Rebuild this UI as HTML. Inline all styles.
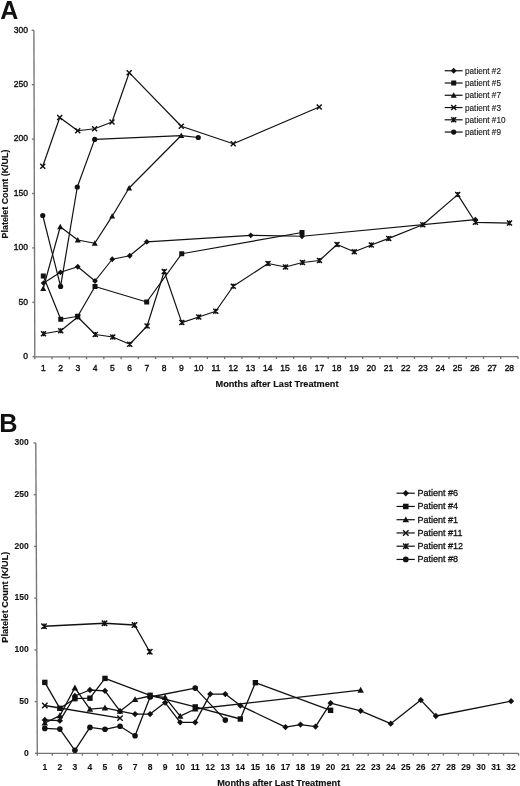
<!DOCTYPE html>
<html><head><meta charset="utf-8"><style>
html,body{margin:0;padding:0;background:#fff;}
body{width:520px;height:786px;overflow:hidden;}
svg{display:block;will-change:transform;}
text{font-family:"Liberation Sans", sans-serif;fill:#111;stroke:#111;stroke-width:0;}
.tk{stroke-width:0.38px;}
.tkb{font-weight:bold;stroke-width:0.1px;}
.lg{stroke-width:0.12px;}
.lgb{stroke-width:0.3px;}
.ti{stroke-width:0.15px;}
</style></head><body>
<svg width="520" height="786" viewBox="0 0 520 786">
<rect width="520" height="786" fill="#fff"/>
<text x="0.2" y="18.7" font-size="25" font-weight="bold">A</text>
<text x="-0.8" y="432.0" font-size="25.3" font-weight="bold">B</text>
<line x1="33.9" y1="30.3" x2="34.8" y2="356.9" stroke="#747474" stroke-width="1.35"/>
<line x1="34.099999999999994" y1="356.9" x2="518.0" y2="356.6" stroke="#747474" stroke-width="1.35"/>
<line x1="32.50" y1="356.70" x2="34.80" y2="356.70" stroke="#747474" stroke-width="1.35"/>
<text x="28.0" y="359.00" text-anchor="end" font-size="8.5" class="tk">0</text>
<line x1="32.35" y1="302.30" x2="34.65" y2="302.30" stroke="#747474" stroke-width="1.35"/>
<text x="28.0" y="304.60" text-anchor="end" font-size="8.5" class="tk">50</text>
<line x1="32.20" y1="247.90" x2="34.50" y2="247.90" stroke="#747474" stroke-width="1.35"/>
<text x="28.0" y="250.20" text-anchor="end" font-size="8.5" class="tk">100</text>
<line x1="32.05" y1="193.50" x2="34.35" y2="193.50" stroke="#747474" stroke-width="1.35"/>
<text x="28.0" y="195.80" text-anchor="end" font-size="8.5" class="tk">150</text>
<line x1="31.90" y1="139.10" x2="34.20" y2="139.10" stroke="#747474" stroke-width="1.35"/>
<text x="28.0" y="141.40" text-anchor="end" font-size="8.5" class="tk">200</text>
<line x1="31.75" y1="84.70" x2="34.05" y2="84.70" stroke="#747474" stroke-width="1.35"/>
<text x="28.0" y="87.00" text-anchor="end" font-size="8.5" class="tk">250</text>
<line x1="31.60" y1="30.30" x2="33.90" y2="30.30" stroke="#747474" stroke-width="1.35"/>
<text x="28.0" y="32.60" text-anchor="end" font-size="8.5" class="tk">300</text>
<line x1="34.80" y1="356.90" x2="34.80" y2="359.20" stroke="#747474" stroke-width="1.35"/>
<line x1="52.06" y1="356.89" x2="52.06" y2="359.19" stroke="#747474" stroke-width="1.35"/>
<line x1="69.31" y1="356.88" x2="69.31" y2="359.18" stroke="#747474" stroke-width="1.35"/>
<line x1="86.57" y1="356.87" x2="86.57" y2="359.17" stroke="#747474" stroke-width="1.35"/>
<line x1="103.83" y1="356.86" x2="103.83" y2="359.16" stroke="#747474" stroke-width="1.35"/>
<line x1="121.09" y1="356.85" x2="121.09" y2="359.15" stroke="#747474" stroke-width="1.35"/>
<line x1="138.34" y1="356.84" x2="138.34" y2="359.14" stroke="#747474" stroke-width="1.35"/>
<line x1="155.60" y1="356.82" x2="155.60" y2="359.12" stroke="#747474" stroke-width="1.35"/>
<line x1="172.86" y1="356.81" x2="172.86" y2="359.11" stroke="#747474" stroke-width="1.35"/>
<line x1="190.11" y1="356.80" x2="190.11" y2="359.10" stroke="#747474" stroke-width="1.35"/>
<line x1="207.37" y1="356.79" x2="207.37" y2="359.09" stroke="#747474" stroke-width="1.35"/>
<line x1="224.63" y1="356.78" x2="224.63" y2="359.08" stroke="#747474" stroke-width="1.35"/>
<line x1="241.89" y1="356.77" x2="241.89" y2="359.07" stroke="#747474" stroke-width="1.35"/>
<line x1="259.14" y1="356.76" x2="259.14" y2="359.06" stroke="#747474" stroke-width="1.35"/>
<line x1="276.40" y1="356.75" x2="276.40" y2="359.05" stroke="#747474" stroke-width="1.35"/>
<line x1="293.66" y1="356.74" x2="293.66" y2="359.04" stroke="#747474" stroke-width="1.35"/>
<line x1="310.91" y1="356.73" x2="310.91" y2="359.03" stroke="#747474" stroke-width="1.35"/>
<line x1="328.17" y1="356.72" x2="328.17" y2="359.02" stroke="#747474" stroke-width="1.35"/>
<line x1="345.43" y1="356.71" x2="345.43" y2="359.01" stroke="#747474" stroke-width="1.35"/>
<line x1="362.69" y1="356.70" x2="362.69" y2="359.00" stroke="#747474" stroke-width="1.35"/>
<line x1="379.94" y1="356.69" x2="379.94" y2="358.99" stroke="#747474" stroke-width="1.35"/>
<line x1="397.20" y1="356.68" x2="397.20" y2="358.98" stroke="#747474" stroke-width="1.35"/>
<line x1="414.46" y1="356.66" x2="414.46" y2="358.96" stroke="#747474" stroke-width="1.35"/>
<line x1="431.71" y1="356.65" x2="431.71" y2="358.95" stroke="#747474" stroke-width="1.35"/>
<line x1="448.97" y1="356.64" x2="448.97" y2="358.94" stroke="#747474" stroke-width="1.35"/>
<line x1="466.23" y1="356.63" x2="466.23" y2="358.93" stroke="#747474" stroke-width="1.35"/>
<line x1="483.49" y1="356.62" x2="483.49" y2="358.92" stroke="#747474" stroke-width="1.35"/>
<line x1="500.74" y1="356.61" x2="500.74" y2="358.91" stroke="#747474" stroke-width="1.35"/>
<line x1="518.00" y1="356.60" x2="518.00" y2="358.90" stroke="#747474" stroke-width="1.35"/>
<text x="43.43" y="371.3" text-anchor="middle" font-size="8.5" class="tk">1</text>
<text x="60.69" y="371.3" text-anchor="middle" font-size="8.5" class="tk">2</text>
<text x="77.94" y="371.3" text-anchor="middle" font-size="8.5" class="tk">3</text>
<text x="95.20" y="371.3" text-anchor="middle" font-size="8.5" class="tk">4</text>
<text x="112.46" y="371.3" text-anchor="middle" font-size="8.5" class="tk">5</text>
<text x="129.71" y="371.3" text-anchor="middle" font-size="8.5" class="tk">6</text>
<text x="146.97" y="371.3" text-anchor="middle" font-size="8.5" class="tk">7</text>
<text x="164.23" y="371.3" text-anchor="middle" font-size="8.5" class="tk">8</text>
<text x="181.49" y="371.3" text-anchor="middle" font-size="8.5" class="tk">9</text>
<text x="198.74" y="371.3" text-anchor="middle" font-size="8.5" class="tk">10</text>
<text x="216.00" y="371.3" text-anchor="middle" font-size="8.5" class="tk">11</text>
<text x="233.26" y="371.3" text-anchor="middle" font-size="8.5" class="tk">12</text>
<text x="250.51" y="371.3" text-anchor="middle" font-size="8.5" class="tk">13</text>
<text x="267.77" y="371.3" text-anchor="middle" font-size="8.5" class="tk">14</text>
<text x="285.03" y="371.3" text-anchor="middle" font-size="8.5" class="tk">15</text>
<text x="302.29" y="371.3" text-anchor="middle" font-size="8.5" class="tk">16</text>
<text x="319.54" y="371.3" text-anchor="middle" font-size="8.5" class="tk">17</text>
<text x="336.80" y="371.3" text-anchor="middle" font-size="8.5" class="tk">18</text>
<text x="354.06" y="371.3" text-anchor="middle" font-size="8.5" class="tk">19</text>
<text x="371.31" y="371.3" text-anchor="middle" font-size="8.5" class="tk">20</text>
<text x="388.57" y="371.3" text-anchor="middle" font-size="8.5" class="tk">21</text>
<text x="405.83" y="371.3" text-anchor="middle" font-size="8.5" class="tk">22</text>
<text x="423.09" y="371.3" text-anchor="middle" font-size="8.5" class="tk">23</text>
<text x="440.34" y="371.3" text-anchor="middle" font-size="8.5" class="tk">24</text>
<text x="457.60" y="371.3" text-anchor="middle" font-size="8.5" class="tk">25</text>
<text x="474.86" y="371.3" text-anchor="middle" font-size="8.5" class="tk">26</text>
<text x="492.11" y="371.3" text-anchor="middle" font-size="8.5" class="tk">27</text>
<text x="509.37" y="371.3" text-anchor="middle" font-size="8.5" class="tk">28</text>
<line x1="35.8" y1="443.0" x2="37.3" y2="753.4" stroke="#747474" stroke-width="1.35"/>
<line x1="36.599999999999994" y1="753.4" x2="518.6" y2="753.3" stroke="#747474" stroke-width="1.35"/>
<line x1="35.00" y1="753.30" x2="37.30" y2="753.30" stroke="#747474" stroke-width="1.35"/>
<text x="28.8" y="755.60" text-anchor="end" font-size="8.5" class="tkb">0</text>
<line x1="34.75" y1="701.58" x2="37.05" y2="701.58" stroke="#747474" stroke-width="1.35"/>
<text x="28.8" y="703.88" text-anchor="end" font-size="8.5" class="tkb">50</text>
<line x1="34.50" y1="649.87" x2="36.80" y2="649.87" stroke="#747474" stroke-width="1.35"/>
<text x="28.8" y="652.17" text-anchor="end" font-size="8.5" class="tkb">100</text>
<line x1="34.25" y1="598.15" x2="36.55" y2="598.15" stroke="#747474" stroke-width="1.35"/>
<text x="28.8" y="600.45" text-anchor="end" font-size="8.5" class="tkb">150</text>
<line x1="34.00" y1="546.44" x2="36.30" y2="546.44" stroke="#747474" stroke-width="1.35"/>
<text x="28.8" y="548.74" text-anchor="end" font-size="8.5" class="tkb">200</text>
<line x1="33.75" y1="494.72" x2="36.05" y2="494.72" stroke="#747474" stroke-width="1.35"/>
<text x="28.8" y="497.02" text-anchor="end" font-size="8.5" class="tkb">250</text>
<line x1="33.50" y1="443.01" x2="35.80" y2="443.01" stroke="#747474" stroke-width="1.35"/>
<text x="28.8" y="445.31" text-anchor="end" font-size="8.5" class="tkb">300</text>
<line x1="37.30" y1="753.40" x2="37.30" y2="755.70" stroke="#747474" stroke-width="1.35"/>
<line x1="52.34" y1="753.40" x2="52.34" y2="755.70" stroke="#747474" stroke-width="1.35"/>
<line x1="67.38" y1="753.39" x2="67.38" y2="755.69" stroke="#747474" stroke-width="1.35"/>
<line x1="82.42" y1="753.39" x2="82.42" y2="755.69" stroke="#747474" stroke-width="1.35"/>
<line x1="97.46" y1="753.39" x2="97.46" y2="755.69" stroke="#747474" stroke-width="1.35"/>
<line x1="112.50" y1="753.38" x2="112.50" y2="755.68" stroke="#747474" stroke-width="1.35"/>
<line x1="127.54" y1="753.38" x2="127.54" y2="755.68" stroke="#747474" stroke-width="1.35"/>
<line x1="142.58" y1="753.38" x2="142.58" y2="755.68" stroke="#747474" stroke-width="1.35"/>
<line x1="157.62" y1="753.38" x2="157.62" y2="755.67" stroke="#747474" stroke-width="1.35"/>
<line x1="172.67" y1="753.37" x2="172.67" y2="755.67" stroke="#747474" stroke-width="1.35"/>
<line x1="187.71" y1="753.37" x2="187.71" y2="755.67" stroke="#747474" stroke-width="1.35"/>
<line x1="202.75" y1="753.37" x2="202.75" y2="755.67" stroke="#747474" stroke-width="1.35"/>
<line x1="217.79" y1="753.36" x2="217.79" y2="755.66" stroke="#747474" stroke-width="1.35"/>
<line x1="232.83" y1="753.36" x2="232.83" y2="755.66" stroke="#747474" stroke-width="1.35"/>
<line x1="247.87" y1="753.36" x2="247.87" y2="755.66" stroke="#747474" stroke-width="1.35"/>
<line x1="262.91" y1="753.35" x2="262.91" y2="755.65" stroke="#747474" stroke-width="1.35"/>
<line x1="277.95" y1="753.35" x2="277.95" y2="755.65" stroke="#747474" stroke-width="1.35"/>
<line x1="292.99" y1="753.35" x2="292.99" y2="755.65" stroke="#747474" stroke-width="1.35"/>
<line x1="308.03" y1="753.34" x2="308.03" y2="755.64" stroke="#747474" stroke-width="1.35"/>
<line x1="323.07" y1="753.34" x2="323.07" y2="755.64" stroke="#747474" stroke-width="1.35"/>
<line x1="338.11" y1="753.34" x2="338.11" y2="755.64" stroke="#747474" stroke-width="1.35"/>
<line x1="353.15" y1="753.33" x2="353.15" y2="755.63" stroke="#747474" stroke-width="1.35"/>
<line x1="368.19" y1="753.33" x2="368.19" y2="755.63" stroke="#747474" stroke-width="1.35"/>
<line x1="383.23" y1="753.33" x2="383.23" y2="755.63" stroke="#747474" stroke-width="1.35"/>
<line x1="398.28" y1="753.32" x2="398.28" y2="755.62" stroke="#747474" stroke-width="1.35"/>
<line x1="413.32" y1="753.32" x2="413.32" y2="755.62" stroke="#747474" stroke-width="1.35"/>
<line x1="428.36" y1="753.32" x2="428.36" y2="755.62" stroke="#747474" stroke-width="1.35"/>
<line x1="443.40" y1="753.32" x2="443.40" y2="755.62" stroke="#747474" stroke-width="1.35"/>
<line x1="458.44" y1="753.31" x2="458.44" y2="755.61" stroke="#747474" stroke-width="1.35"/>
<line x1="473.48" y1="753.31" x2="473.48" y2="755.61" stroke="#747474" stroke-width="1.35"/>
<line x1="488.52" y1="753.31" x2="488.52" y2="755.61" stroke="#747474" stroke-width="1.35"/>
<line x1="503.56" y1="753.30" x2="503.56" y2="755.60" stroke="#747474" stroke-width="1.35"/>
<line x1="518.60" y1="753.30" x2="518.60" y2="755.60" stroke="#747474" stroke-width="1.35"/>
<text x="44.82" y="769.6" text-anchor="middle" font-size="8.5" class="tkb">1</text>
<text x="59.86" y="769.6" text-anchor="middle" font-size="8.5" class="tkb">2</text>
<text x="74.90" y="769.6" text-anchor="middle" font-size="8.5" class="tkb">3</text>
<text x="89.94" y="769.6" text-anchor="middle" font-size="8.5" class="tkb">4</text>
<text x="104.98" y="769.6" text-anchor="middle" font-size="8.5" class="tkb">5</text>
<text x="120.02" y="769.6" text-anchor="middle" font-size="8.5" class="tkb">6</text>
<text x="135.06" y="769.6" text-anchor="middle" font-size="8.5" class="tkb">7</text>
<text x="150.10" y="769.6" text-anchor="middle" font-size="8.5" class="tkb">8</text>
<text x="165.15" y="769.6" text-anchor="middle" font-size="8.5" class="tkb">9</text>
<text x="180.19" y="769.6" text-anchor="middle" font-size="8.5" class="tkb">10</text>
<text x="195.23" y="769.6" text-anchor="middle" font-size="8.5" class="tkb">11</text>
<text x="210.27" y="769.6" text-anchor="middle" font-size="8.5" class="tkb">12</text>
<text x="225.31" y="769.6" text-anchor="middle" font-size="8.5" class="tkb">13</text>
<text x="240.35" y="769.6" text-anchor="middle" font-size="8.5" class="tkb">14</text>
<text x="255.39" y="769.6" text-anchor="middle" font-size="8.5" class="tkb">15</text>
<text x="270.43" y="769.6" text-anchor="middle" font-size="8.5" class="tkb">16</text>
<text x="285.47" y="769.6" text-anchor="middle" font-size="8.5" class="tkb">17</text>
<text x="300.51" y="769.6" text-anchor="middle" font-size="8.5" class="tkb">18</text>
<text x="315.55" y="769.6" text-anchor="middle" font-size="8.5" class="tkb">19</text>
<text x="330.59" y="769.6" text-anchor="middle" font-size="8.5" class="tkb">20</text>
<text x="345.63" y="769.6" text-anchor="middle" font-size="8.5" class="tkb">21</text>
<text x="360.67" y="769.6" text-anchor="middle" font-size="8.5" class="tkb">22</text>
<text x="375.71" y="769.6" text-anchor="middle" font-size="8.5" class="tkb">23</text>
<text x="390.75" y="769.6" text-anchor="middle" font-size="8.5" class="tkb">24</text>
<text x="405.80" y="769.6" text-anchor="middle" font-size="8.5" class="tkb">25</text>
<text x="420.84" y="769.6" text-anchor="middle" font-size="8.5" class="tkb">26</text>
<text x="435.88" y="769.6" text-anchor="middle" font-size="8.5" class="tkb">27</text>
<text x="450.92" y="769.6" text-anchor="middle" font-size="8.5" class="tkb">28</text>
<text x="465.96" y="769.6" text-anchor="middle" font-size="8.5" class="tkb">29</text>
<text x="481.00" y="769.6" text-anchor="middle" font-size="8.5" class="tkb">30</text>
<text x="496.04" y="769.6" text-anchor="middle" font-size="8.5" class="tkb">31</text>
<text x="511.08" y="769.6" text-anchor="middle" font-size="8.5" class="tkb">32</text>
<text x="277" y="386.9" text-anchor="middle" font-size="9.2" font-weight="bold" class="ti">Months after Last Treatment</text>
<text x="278.7" y="785.9" text-anchor="middle" font-size="9.2" font-weight="bold" class="ti">Months after Last Treatment</text>
<text transform="translate(7.9,194) rotate(-90)" text-anchor="middle" font-size="8.9" font-weight="bold" class="ti">Platelet Count (K/UL)</text>
<text transform="translate(7.9,597.2) rotate(-90)" text-anchor="middle" font-size="9.1" font-weight="bold" class="ti">Platelet Count (K/UL)</text>
<path d="M42.75,215.50L60.60,286.40L77.30,187.00L94.70,139.40L181.30,135.60L198.25,137.50" stroke="#111" stroke-width="1.2" fill="none" stroke-linejoin="round"/>
<circle cx="42.75" cy="215.50" r="2.60" fill="#111"/>
<circle cx="60.60" cy="286.40" r="2.60" fill="#111"/>
<circle cx="77.30" cy="187.00" r="2.60" fill="#111"/>
<circle cx="94.70" cy="139.40" r="2.60" fill="#111"/>
<circle cx="198.25" cy="137.50" r="2.60" fill="#111"/>
<path d="M42.75,166.25L59.75,117.50L77.75,130.75L94.60,128.75L112.00,122.00L129.20,72.70L181.25,126.25L233.25,143.75L319.25,107.00" stroke="#111" stroke-width="1.2" fill="none" stroke-linejoin="round"/>
<path d="M40.25,163.75L45.25,168.75M45.25,163.75L40.25,168.75" stroke="#111" stroke-width="1.45" fill="none"/>
<path d="M57.25,115.00L62.25,120.00M62.25,115.00L57.25,120.00" stroke="#111" stroke-width="1.45" fill="none"/>
<path d="M75.25,128.25L80.25,133.25M80.25,128.25L75.25,133.25" stroke="#111" stroke-width="1.45" fill="none"/>
<path d="M92.10,126.25L97.10,131.25M97.10,126.25L92.10,131.25" stroke="#111" stroke-width="1.45" fill="none"/>
<path d="M109.50,119.50L114.50,124.50M114.50,119.50L109.50,124.50" stroke="#111" stroke-width="1.45" fill="none"/>
<path d="M126.70,70.20L131.70,75.20M131.70,70.20L126.70,75.20" stroke="#111" stroke-width="1.45" fill="none"/>
<path d="M178.75,123.75L183.75,128.75M183.75,123.75L178.75,128.75" stroke="#111" stroke-width="1.45" fill="none"/>
<path d="M230.75,141.25L235.75,146.25M235.75,141.25L230.75,146.25" stroke="#111" stroke-width="1.45" fill="none"/>
<path d="M316.75,104.50L321.75,109.50M321.75,104.50L316.75,109.50" stroke="#111" stroke-width="1.45" fill="none"/>
<path d="M43.50,333.75L60.75,330.75L77.75,317.00L95.25,334.50L112.75,337.00L129.75,344.25L147.10,326.00L164.25,271.50L181.80,322.60L198.75,317.00L215.75,311.25L233.25,286.25L268.00,263.50L285.50,267.00L302.50,262.50L319.50,260.50L337.00,244.50L354.25,251.75L371.30,245.00L388.75,238.40L422.80,224.80L457.70,194.60L475.40,222.30L509.50,223.10" stroke="#111" stroke-width="1.2" fill="none" stroke-linejoin="round"/>
<path d="M41.00,331.25L46.00,336.25M46.00,331.25L41.00,336.25M43.50,331.25L43.50,336.25" stroke="#111" stroke-width="1.45" fill="none"/>
<path d="M58.25,328.25L63.25,333.25M63.25,328.25L58.25,333.25M60.75,328.25L60.75,333.25" stroke="#111" stroke-width="1.45" fill="none"/>
<path d="M75.25,314.50L80.25,319.50M80.25,314.50L75.25,319.50M77.75,314.50L77.75,319.50" stroke="#111" stroke-width="1.45" fill="none"/>
<path d="M92.75,332.00L97.75,337.00M97.75,332.00L92.75,337.00M95.25,332.00L95.25,337.00" stroke="#111" stroke-width="1.45" fill="none"/>
<path d="M110.25,334.50L115.25,339.50M115.25,334.50L110.25,339.50M112.75,334.50L112.75,339.50" stroke="#111" stroke-width="1.45" fill="none"/>
<path d="M127.25,341.75L132.25,346.75M132.25,341.75L127.25,346.75M129.75,341.75L129.75,346.75" stroke="#111" stroke-width="1.45" fill="none"/>
<path d="M144.60,323.50L149.60,328.50M149.60,323.50L144.60,328.50M147.10,323.50L147.10,328.50" stroke="#111" stroke-width="1.45" fill="none"/>
<path d="M161.75,269.00L166.75,274.00M166.75,269.00L161.75,274.00M164.25,269.00L164.25,274.00" stroke="#111" stroke-width="1.45" fill="none"/>
<path d="M179.30,320.10L184.30,325.10M184.30,320.10L179.30,325.10M181.80,320.10L181.80,325.10" stroke="#111" stroke-width="1.45" fill="none"/>
<path d="M196.25,314.50L201.25,319.50M201.25,314.50L196.25,319.50M198.75,314.50L198.75,319.50" stroke="#111" stroke-width="1.45" fill="none"/>
<path d="M213.25,308.75L218.25,313.75M218.25,308.75L213.25,313.75M215.75,308.75L215.75,313.75" stroke="#111" stroke-width="1.45" fill="none"/>
<path d="M230.75,283.75L235.75,288.75M235.75,283.75L230.75,288.75M233.25,283.75L233.25,288.75" stroke="#111" stroke-width="1.45" fill="none"/>
<path d="M265.50,261.00L270.50,266.00M270.50,261.00L265.50,266.00M268.00,261.00L268.00,266.00" stroke="#111" stroke-width="1.45" fill="none"/>
<path d="M283.00,264.50L288.00,269.50M288.00,264.50L283.00,269.50M285.50,264.50L285.50,269.50" stroke="#111" stroke-width="1.45" fill="none"/>
<path d="M300.00,260.00L305.00,265.00M305.00,260.00L300.00,265.00M302.50,260.00L302.50,265.00" stroke="#111" stroke-width="1.45" fill="none"/>
<path d="M317.00,258.00L322.00,263.00M322.00,258.00L317.00,263.00M319.50,258.00L319.50,263.00" stroke="#111" stroke-width="1.45" fill="none"/>
<path d="M334.50,242.00L339.50,247.00M339.50,242.00L334.50,247.00M337.00,242.00L337.00,247.00" stroke="#111" stroke-width="1.45" fill="none"/>
<path d="M351.75,249.25L356.75,254.25M356.75,249.25L351.75,254.25M354.25,249.25L354.25,254.25" stroke="#111" stroke-width="1.45" fill="none"/>
<path d="M368.80,242.50L373.80,247.50M373.80,242.50L368.80,247.50M371.30,242.50L371.30,247.50" stroke="#111" stroke-width="1.45" fill="none"/>
<path d="M386.25,235.90L391.25,240.90M391.25,235.90L386.25,240.90M388.75,235.90L388.75,240.90" stroke="#111" stroke-width="1.45" fill="none"/>
<path d="M420.30,222.30L425.30,227.30M425.30,222.30L420.30,227.30M422.80,222.30L422.80,227.30" stroke="#111" stroke-width="1.45" fill="none"/>
<path d="M455.20,192.10L460.20,197.10M460.20,192.10L455.20,197.10M457.70,192.10L457.70,197.10" stroke="#111" stroke-width="1.45" fill="none"/>
<path d="M472.90,219.80L477.90,224.80M477.90,219.80L472.90,224.80M475.40,219.80L475.40,224.80" stroke="#111" stroke-width="1.45" fill="none"/>
<path d="M507.00,220.60L512.00,225.60M512.00,220.60L507.00,225.60M509.50,220.60L509.50,225.60" stroke="#111" stroke-width="1.45" fill="none"/>
<path d="M43.20,288.50L60.25,226.75L77.75,240.00L94.75,243.25L112.20,216.20L129.10,188.00L181.25,135.50" stroke="#111" stroke-width="1.2" fill="none" stroke-linejoin="round"/>
<polygon points="43.20,285.50 46.20,290.90 40.20,290.90" fill="#111"/>
<polygon points="60.25,223.75 63.25,229.15 57.25,229.15" fill="#111"/>
<polygon points="77.75,237.00 80.75,242.40 74.75,242.40" fill="#111"/>
<polygon points="94.75,240.25 97.75,245.65 91.75,245.65" fill="#111"/>
<polygon points="112.20,213.20 115.20,218.60 109.20,218.60" fill="#111"/>
<polygon points="129.10,185.00 132.10,190.40 126.10,190.40" fill="#111"/>
<polygon points="181.25,132.50 184.25,137.90 178.25,137.90" fill="#111"/>
<path d="M43.30,276.00L60.75,319.25L77.75,316.25L95.00,286.50L146.70,302.00L181.75,253.75L302.00,232.50" stroke="#111" stroke-width="1.2" fill="none" stroke-linejoin="round"/>
<rect x="40.80" y="273.50" width="5.00" height="5.00" fill="#111"/>
<rect x="58.25" y="316.75" width="5.00" height="5.00" fill="#111"/>
<rect x="75.25" y="313.75" width="5.00" height="5.00" fill="#111"/>
<rect x="92.50" y="284.00" width="5.00" height="5.00" fill="#111"/>
<rect x="144.20" y="299.50" width="5.00" height="5.00" fill="#111"/>
<rect x="179.25" y="251.25" width="5.00" height="5.00" fill="#111"/>
<rect x="299.50" y="230.00" width="5.00" height="5.00" fill="#111"/>
<path d="M43.60,283.10L60.50,272.30L77.75,266.75L95.00,281.00L112.25,259.25L129.75,255.75L146.80,241.80L250.75,235.30L302.00,236.25L475.40,219.70" stroke="#111" stroke-width="1.2" fill="none" stroke-linejoin="round"/>
<polygon points="43.60,280.20 46.50,283.10 43.60,286.00 40.70,283.10" fill="#111"/>
<polygon points="60.50,269.40 63.40,272.30 60.50,275.20 57.60,272.30" fill="#111"/>
<polygon points="77.75,263.85 80.65,266.75 77.75,269.65 74.85,266.75" fill="#111"/>
<polygon points="95.00,278.10 97.90,281.00 95.00,283.90 92.10,281.00" fill="#111"/>
<polygon points="112.25,256.35 115.15,259.25 112.25,262.15 109.35,259.25" fill="#111"/>
<polygon points="129.75,252.85 132.65,255.75 129.75,258.65 126.85,255.75" fill="#111"/>
<polygon points="146.80,238.90 149.70,241.80 146.80,244.70 143.90,241.80" fill="#111"/>
<polygon points="250.75,232.40 253.65,235.30 250.75,238.20 247.85,235.30" fill="#111"/>
<polygon points="302.00,233.35 304.90,236.25 302.00,239.15 299.10,236.25" fill="#111"/>
<polygon points="475.40,216.80 478.30,219.70 475.40,222.60 472.50,219.70" fill="#111"/>
<path d="M44.82,728.40L59.86,729.10L74.90,750.30L89.94,727.40L104.98,729.30L120.02,726.20L135.06,735.70L150.10,697.00L195.22,688.10L225.30,720.10" stroke="#111" stroke-width="1.3" fill="none" stroke-linejoin="round"/>
<circle cx="44.82" cy="728.40" r="2.81" fill="#111"/>
<circle cx="59.86" cy="729.10" r="2.81" fill="#111"/>
<circle cx="74.90" cy="750.30" r="2.81" fill="#111"/>
<circle cx="89.94" cy="727.40" r="2.81" fill="#111"/>
<circle cx="104.98" cy="729.30" r="2.81" fill="#111"/>
<circle cx="120.02" cy="726.20" r="2.81" fill="#111"/>
<circle cx="135.06" cy="735.70" r="2.81" fill="#111"/>
<circle cx="150.10" cy="697.00" r="2.81" fill="#111"/>
<circle cx="195.22" cy="688.10" r="2.81" fill="#111"/>
<circle cx="225.30" cy="720.10" r="2.81" fill="#111"/>
<path d="M44.82,705.50L120.02,718.10" stroke="#111" stroke-width="1.3" fill="none" stroke-linejoin="round"/>
<path d="M42.12,702.80L47.52,708.20M47.52,702.80L42.12,708.20" stroke="#111" stroke-width="1.45" fill="none"/>
<path d="M117.32,715.40L122.72,720.80M122.72,715.40L117.32,720.80" stroke="#111" stroke-width="1.45" fill="none"/>
<path d="M44.00,626.25L104.50,623.25L134.50,625.00L149.75,651.75" stroke="#111" stroke-width="1.3" fill="none" stroke-linejoin="round"/>
<path d="M41.30,623.55L46.70,628.95M46.70,623.55L41.30,628.95M44.00,623.55L44.00,628.95" stroke="#111" stroke-width="1.45" fill="none"/>
<path d="M101.80,620.55L107.20,625.95M107.20,620.55L101.80,625.95M104.50,620.55L104.50,625.95" stroke="#111" stroke-width="1.45" fill="none"/>
<path d="M131.80,622.30L137.20,627.70M137.20,622.30L131.80,627.70M134.50,622.30L134.50,627.70" stroke="#111" stroke-width="1.45" fill="none"/>
<path d="M147.05,649.05L152.45,654.45M152.45,649.05L147.05,654.45M149.75,649.05L149.75,654.45" stroke="#111" stroke-width="1.45" fill="none"/>
<path d="M44.82,723.00L59.86,715.60L74.90,687.80L89.94,709.20L104.98,707.80L120.02,711.20L135.06,699.40L150.10,696.00L165.14,697.30L180.18,716.10L195.22,709.00L360.66,690.10" stroke="#111" stroke-width="1.3" fill="none" stroke-linejoin="round"/>
<polygon points="44.82,719.76 48.06,725.59 41.58,725.59" fill="#111"/>
<polygon points="59.86,712.36 63.10,718.19 56.62,718.19" fill="#111"/>
<polygon points="74.90,684.56 78.14,690.39 71.66,690.39" fill="#111"/>
<polygon points="89.94,705.96 93.18,711.79 86.70,711.79" fill="#111"/>
<polygon points="104.98,704.56 108.22,710.39 101.74,710.39" fill="#111"/>
<polygon points="120.02,707.96 123.26,713.79 116.78,713.79" fill="#111"/>
<polygon points="135.06,696.16 138.30,701.99 131.82,701.99" fill="#111"/>
<polygon points="150.10,692.76 153.34,698.59 146.86,698.59" fill="#111"/>
<polygon points="165.14,694.06 168.38,699.89 161.90,699.89" fill="#111"/>
<polygon points="180.18,712.86 183.42,718.69 176.94,718.69" fill="#111"/>
<polygon points="195.22,705.76 198.46,711.59 191.98,711.59" fill="#111"/>
<polygon points="360.66,686.86 363.90,692.69 357.42,692.69" fill="#111"/>
<path d="M44.82,682.40L59.86,708.30L74.90,698.70L89.94,698.20L104.98,678.40L150.10,695.30L195.22,706.90L240.34,719.00L255.38,682.70L330.58,710.30" stroke="#111" stroke-width="1.3" fill="none" stroke-linejoin="round"/>
<rect x="42.12" y="679.70" width="5.40" height="5.40" fill="#111"/>
<rect x="57.16" y="705.60" width="5.40" height="5.40" fill="#111"/>
<rect x="72.20" y="696.00" width="5.40" height="5.40" fill="#111"/>
<rect x="87.24" y="695.50" width="5.40" height="5.40" fill="#111"/>
<rect x="102.28" y="675.70" width="5.40" height="5.40" fill="#111"/>
<rect x="147.40" y="692.60" width="5.40" height="5.40" fill="#111"/>
<rect x="192.52" y="704.20" width="5.40" height="5.40" fill="#111"/>
<rect x="237.64" y="716.30" width="5.40" height="5.40" fill="#111"/>
<rect x="252.68" y="680.00" width="5.40" height="5.40" fill="#111"/>
<rect x="327.88" y="707.60" width="5.40" height="5.40" fill="#111"/>
<path d="M44.82,720.00L59.86,720.70L74.90,696.00L89.94,690.00L104.98,690.80L120.02,711.20L135.06,714.10L150.10,714.10L165.14,702.60L180.18,722.30L195.22,722.40L210.26,694.10L225.30,694.10L240.34,705.60L285.46,727.10L300.50,724.60L315.54,726.60L330.58,703.10L360.66,710.80L390.74,723.70L420.82,700.10L435.86,716.00L511.06,701.20" stroke="#111" stroke-width="1.3" fill="none" stroke-linejoin="round"/>
<polygon points="44.82,716.87 47.95,720.00 44.82,723.13 41.69,720.00" fill="#111"/>
<polygon points="59.86,717.57 62.99,720.70 59.86,723.83 56.73,720.70" fill="#111"/>
<polygon points="74.90,692.87 78.03,696.00 74.90,699.13 71.77,696.00" fill="#111"/>
<polygon points="89.94,686.87 93.07,690.00 89.94,693.13 86.81,690.00" fill="#111"/>
<polygon points="104.98,687.67 108.11,690.80 104.98,693.93 101.85,690.80" fill="#111"/>
<polygon points="120.02,708.07 123.15,711.20 120.02,714.33 116.89,711.20" fill="#111"/>
<polygon points="135.06,710.97 138.19,714.10 135.06,717.23 131.93,714.10" fill="#111"/>
<polygon points="150.10,710.97 153.23,714.10 150.10,717.23 146.97,714.10" fill="#111"/>
<polygon points="165.14,699.47 168.27,702.60 165.14,705.73 162.01,702.60" fill="#111"/>
<polygon points="180.18,719.17 183.31,722.30 180.18,725.43 177.05,722.30" fill="#111"/>
<polygon points="195.22,719.27 198.35,722.40 195.22,725.53 192.09,722.40" fill="#111"/>
<polygon points="210.26,690.97 213.39,694.10 210.26,697.23 207.13,694.10" fill="#111"/>
<polygon points="225.30,690.97 228.43,694.10 225.30,697.23 222.17,694.10" fill="#111"/>
<polygon points="240.34,702.47 243.47,705.60 240.34,708.73 237.21,705.60" fill="#111"/>
<polygon points="285.46,723.97 288.59,727.10 285.46,730.23 282.33,727.10" fill="#111"/>
<polygon points="300.50,721.47 303.63,724.60 300.50,727.73 297.37,724.60" fill="#111"/>
<polygon points="315.54,723.47 318.67,726.60 315.54,729.73 312.41,726.60" fill="#111"/>
<polygon points="330.58,699.97 333.71,703.10 330.58,706.23 327.45,703.10" fill="#111"/>
<polygon points="360.66,707.67 363.79,710.80 360.66,713.93 357.53,710.80" fill="#111"/>
<polygon points="390.74,720.57 393.87,723.70 390.74,726.83 387.61,723.70" fill="#111"/>
<polygon points="420.82,696.97 423.95,700.10 420.82,703.23 417.69,700.10" fill="#111"/>
<polygon points="435.86,712.87 438.99,716.00 435.86,719.13 432.73,716.00" fill="#111"/>
<polygon points="511.06,698.07 514.19,701.20 511.06,704.33 507.93,701.20" fill="#111"/>
<line x1="444.7" y1="70.75" x2="462.6" y2="70.75" stroke="#111" stroke-width="1.2"/>
<polygon points="453.70,67.85 456.60,70.75 453.70,73.65 450.80,70.75" fill="#111"/>
<text x="465.0" y="73.75" font-size="8.2" class="lg">patient #2</text>
<line x1="444.7" y1="83.01" x2="462.6" y2="83.01" stroke="#111" stroke-width="1.2"/>
<rect x="451.20" y="80.51" width="5.00" height="5.00" fill="#111"/>
<text x="465.0" y="86.01" font-size="8.2" class="lg">patient #5</text>
<line x1="444.7" y1="95.27" x2="462.6" y2="95.27" stroke="#111" stroke-width="1.2"/>
<polygon points="453.70,92.27 456.70,97.67 450.70,97.67" fill="#111"/>
<text x="465.0" y="98.27" font-size="8.2" class="lg">patient #7</text>
<line x1="444.7" y1="107.53" x2="462.6" y2="107.53" stroke="#111" stroke-width="1.2"/>
<path d="M451.20,105.03L456.20,110.03M456.20,105.03L451.20,110.03" stroke="#111" stroke-width="1.45" fill="none"/>
<text x="465.0" y="110.53" font-size="8.2" class="lg">patient #3</text>
<line x1="444.7" y1="119.79" x2="462.6" y2="119.79" stroke="#111" stroke-width="1.2"/>
<path d="M451.20,117.29L456.20,122.29M456.20,117.29L451.20,122.29M453.70,117.29L453.70,122.29" stroke="#111" stroke-width="1.45" fill="none"/>
<text x="465.0" y="122.79" font-size="8.2" class="lg">patient #10</text>
<line x1="444.7" y1="132.05" x2="462.6" y2="132.05" stroke="#111" stroke-width="1.2"/>
<circle cx="453.70" cy="132.05" r="2.60" fill="#111"/>
<text x="465.0" y="135.05" font-size="8.2" class="lg">patient #9</text>
<line x1="396.5" y1="493.20" x2="414.8" y2="493.20" stroke="#111" stroke-width="1.2"/>
<polygon points="405.80,490.01 408.99,493.20 405.80,496.39 402.61,493.20" fill="#111"/>
<text x="417.6" y="496.20" font-size="9.0" class="lgb">Patient #6</text>
<line x1="396.5" y1="506.45" x2="414.8" y2="506.45" stroke="#111" stroke-width="1.2"/>
<rect x="403.05" y="503.70" width="5.50" height="5.50" fill="#111"/>
<text x="417.6" y="509.45" font-size="9.0" class="lgb">Patient #4</text>
<line x1="396.5" y1="519.70" x2="414.8" y2="519.70" stroke="#111" stroke-width="1.2"/>
<polygon points="405.80,516.40 409.10,522.34 402.50,522.34" fill="#111"/>
<text x="417.6" y="522.70" font-size="9.0" class="lgb">Patient #1</text>
<line x1="396.5" y1="532.95" x2="414.8" y2="532.95" stroke="#111" stroke-width="1.2"/>
<path d="M403.05,530.20L408.55,535.70M408.55,530.20L403.05,535.70" stroke="#111" stroke-width="1.45" fill="none"/>
<text x="417.6" y="535.95" font-size="9.0" class="lgb">Patient #11</text>
<line x1="396.5" y1="546.20" x2="414.8" y2="546.20" stroke="#111" stroke-width="1.2"/>
<path d="M403.05,543.45L408.55,548.95M408.55,543.45L403.05,548.95M405.80,543.45L405.80,548.95" stroke="#111" stroke-width="1.45" fill="none"/>
<text x="417.6" y="549.20" font-size="9.0" class="lgb">Patient #12</text>
<line x1="396.5" y1="559.45" x2="414.8" y2="559.45" stroke="#111" stroke-width="1.2"/>
<circle cx="405.80" cy="559.45" r="2.86" fill="#111"/>
<text x="417.6" y="562.45" font-size="9.0" class="lgb">Patient #8</text>
</svg>
</body></html>
